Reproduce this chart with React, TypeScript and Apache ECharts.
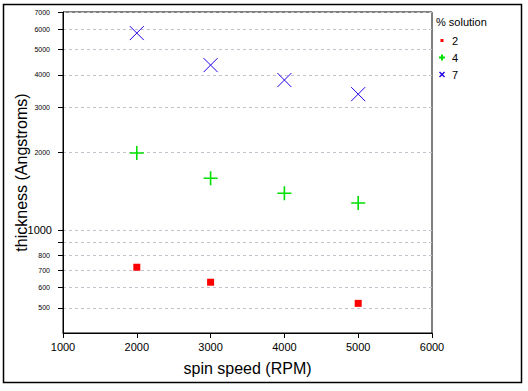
import React, { useEffect, useRef } from 'react';
import * as echarts from 'echarts';

const seriesNames = ['2', '4', '7'];
const speeds2 = [2000, 3000, 5000];
const thickness2 = [719, 629, 521];
const speeds4 = [2000, 3000, 4000, 5000];
const thickness4 = [1990, 1590, 1390, 1275];
const speeds7 = [2000, 3000, 4000, 5000];
const thickness7 = [5800, 4360, 3815, 3365];
const yTickValues = [500, 600, 700, 800, 900, 1000, 2000, 3000, 4000, 5000, 6000, 7000];
const yLabelValues = [500, 600, 700, 800, 1000, 2000, 3000, 4000, 5000, 6000, 7000];
const yMin = 400;
const yMax = 7000;
const xMin = 1000;
const xMax = 6000;
const xStep = 1000;

const FONT = '"Liberation Sans", Arial, sans-serif';
const RED = '#ff0000';
const GREEN = '#00e000';
const BLUE = '#2000e8';

const lg = (v: number) => Math.log10(v);
const toPoints = (xs: number[], ys: number[]) => xs.map((x, i) => [x, lg(ys[i])]);

export default function App() {
  const ref = useRef<HTMLDivElement>(null);
  useEffect(() => {
    if (!ref.current) return;
    const chart = echarts.init(ref.current, null, { renderer: 'svg' });
    chart.setOption({
      animation: false,
      backgroundColor: '#fff',
      textStyle: { fontFamily: FONT, color: '#000' },
      grid: {
        left: 63, right: 96, top: 12, bottom: 58,
        show: true, borderColor: '#000', borderWidth: 1, backgroundColor: 'transparent',
      },
      graphic: [
        {
          type: 'rect', silent: true,
          shape: { x: 3.5, y: 4.5, width: 518, height: 378 },
          style: { fill: 'none', stroke: '#000', lineWidth: 1.5 },
        },
        {
          type: 'text', silent: true, left: 436, top: 16,
          style: { text: '% solution', fontSize: 11, fontFamily: FONT, fill: '#000' },
        },
      ],
      legend: {
        orient: 'vertical',
        left: 437,
        top: 35,
        itemWidth: 10,
        itemHeight: 10,
        itemGap: 6,
        padding: 0,
        textStyle: { fontSize: 11, fontFamily: FONT, color: '#000', lineHeight: 10 },
        data: [
          { name: seriesNames[0], icon: 'path://M0,0M10,10M3.5,3.5h3v3h-3z', itemStyle: { color: RED, borderWidth: 0 } },
          { name: seriesNames[1], icon: 'path://M0,0M10,10M4,2h2v2h2v2h-2v2h-2v-2h-2v-2h2z', itemStyle: { color: GREEN, borderWidth: 0 } },
          { name: seriesNames[2], icon: 'path://M0,0M10,10M2,3L3,2L5,4L7,2L8,3L6,5L8,7L7,8L5,6L3,8L2,7L4,5Z', itemStyle: { color: BLUE, borderWidth: 0 } },
        ],
      },
      xAxis: {
        type: 'value',
        min: xMin, max: xMax, interval: xStep,
        name: 'spin speed (RPM)',
        nameLocation: 'middle',
        nameGap: 27,
        nameMoveOverlap: false,
        nameTextStyle: { fontSize: 16, fontFamily: FONT, color: '#000' },
        axisLine: { show: true, lineStyle: { color: '#000', width: 1 } },
        axisTick: { show: true, inside: false, length: 5, lineStyle: { color: '#000' } },
        axisLabel: {
          fontSize: 11, fontFamily: FONT, color: '#000', margin: 8,
          showMinLabel: true, showMaxLabel: true,
          formatter: (v: number) => String(v),
        },
        splitLine: { show: false },
      },
      yAxis: {
        type: 'value',
        min: lg(yMin), max: lg(yMax),
        name: 'thickness (Angstroms)',
        nameLocation: 'middle',
        nameGap: 34,
        nameMoveOverlap: false,
        nameTextStyle: { fontSize: 16, fontFamily: FONT, color: '#000' },
        axisLine: { show: true, lineStyle: { color: '#000', width: 1 } },
        axisTick: { show: true, inside: false, length: 5, lineStyle: { color: '#000' }, customValues: yTickValues.map(lg) },
        axisLabel: {
          customValues: yLabelValues.map(lg),
          margin: 11,
          fontFamily: FONT,
          color: '#000',
          formatter: (val: number) => {
            const v = Math.round(Math.pow(10, val));
            return v === 1000 ? '{b|1000}' : '{s|' + v + '}';
          },
          rich: {
            b: { fontSize: 11, fontFamily: FONT, color: '#000' },
            s: { fontSize: 7, fontFamily: FONT, color: '#000', padding: [0, 2, 0, 0] },
          },
        },
        splitLine: { show: true, lineStyle: { color: '#c6c0cc', type: [3, 3], width: 1 } },
      },
      series: [
        {
          name: seriesNames[0], type: 'scatter',
          data: toPoints(speeds2, thickness2),
          symbol: 'rect', symbolSize: 7,
          itemStyle: { color: RED, opacity: 1 },
        },
        {
          name: seriesNames[1], type: 'scatter',
          data: toPoints(speeds4, thickness4),
          symbol: 'path://M5,0L5,10M0,5L10,5', symbolSize: 14,
          itemStyle: { color: GREEN, borderColor: GREEN, borderWidth: 1.6, opacity: 1 },
        },
        {
          name: seriesNames[2], type: 'scatter',
          data: toPoints(speeds7, thickness7),
          symbol: 'path://M0,0L10,10M10,0L0,10', symbolSize: 14,
          itemStyle: { color: BLUE, borderColor: BLUE, borderWidth: 1, opacity: 1 },
        },
      ],
    });
    return () => chart.dispose();
  }, []);
  return (
    <div
      ref={ref}
      style={{ position: 'fixed', left: 0, top: 0, width: 528, height: 391, background: '#fff' }}
    />
  );
}
